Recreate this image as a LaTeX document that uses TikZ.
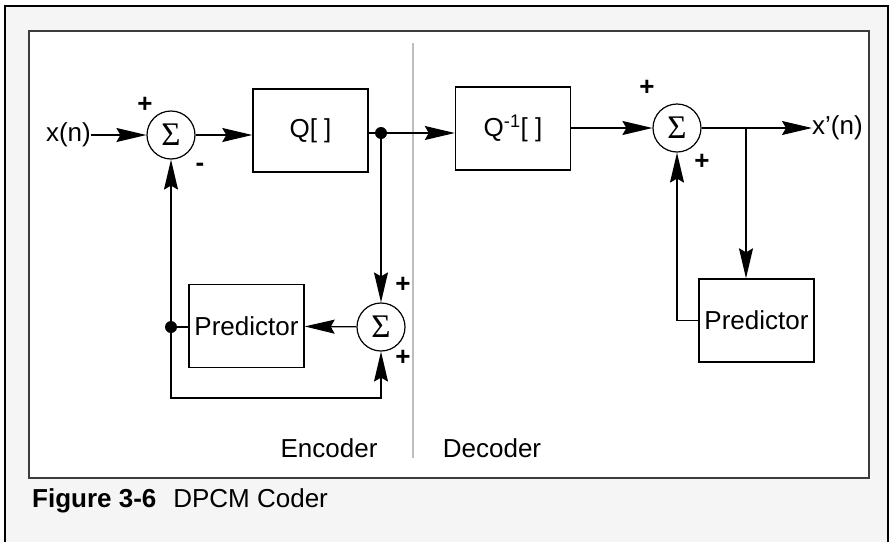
\documentclass[tikz,border=0pt]{standalone}
\usepackage{fontspec}
\setmainfont{Liberation Sans}
\newfontfamily\fuenteSigma{Liberation Serif}
\usetikzlibrary{arrows.meta}
\definecolor{grisfondo}{HTML}{F5F5F5}
\definecolor{grismarco}{HTML}{3C3C3C}
\definecolor{grisdivisor}{HTML}{BDBDBD}
\colorlet{colLinea}{black}
\colorlet{colMarco}{grismarco}
\colorlet{colDivisor}{grisdivisor}
\newcommand{\letraDiagrama}{\fontsize{26}{31}\selectfont}
\newcommand{\letraSigma}{\fontsize{33}{36}\selectfont}
\tikzset{
  cajaBloque/.style={
    draw=colLinea, line width=1.4pt,
    minimum width=115pt, minimum height=83pt, inner sep=0pt,
    align=center, font=\letraDiagrama
  },
  sumador/.style={circle, draw=colLinea, line width=1.2pt,
    minimum size=48pt, inner sep=0pt, font=\fuenteSigma\letraSigma},
  punto/.style={circle, fill=colLinea, minimum size=12pt, inner sep=0pt},
  flecha/.style={-{Stealth[length=30pt, width=14pt, inset=4pt]}, line width=1.3pt, colLinea},
  linea/.style={line width=1.3pt, colLinea},
  signo/.style={font=\bfseries\letraDiagrama, inner sep=0pt},
  etiqueta/.style={font=\letraDiagrama, inner sep=0pt},
}

\begin{document}
\begin{tikzpicture}[x=1pt, y=-1pt]
    \clip (0,0) rectangle (893,541);
    % marco exterior, area blanca y separador
    \draw[colLinea, line width=2.4pt, fill=grisfondo] (5,6) rectangle (888,560);
    \draw[colMarco, line width=2pt, fill=white] (29,31) rectangle (869,478);
    \draw[colDivisor, line width=1.5pt] (413,43) -- (413,458);
    % codificador
    \node[etiqueta, anchor=east] (xn) at (91,135) {x(n)};
    \node[sumador] (suma1) at (171,135) {Σ};
    \node[cajaBloque] (cuant) at (310.5,130.5) {Q[ ]};
    \node[punto] (derivacion) at (381,133) {};
    \node[sumador] (suma2) at (381,327) {Σ};
    \node[cajaBloque] (predCod) at (246.5,326) {Predictor};
    \node[punto] (retorno) at (171,327) {};
    \coordinate (esquinaCod) at (171,398);
    \node[signo] at (145,105) {+};
    \node[signo] at (200,167) {-};
    \node[signo] at (403,285) {+};
    \node[signo] at (403,358) {+};
    \draw[flecha] (xn) -- (suma1);
    \draw[flecha] (suma1) -- (cuant.west |- suma1);
    \draw[linea] (cuant.east |- derivacion) -- (derivacion);
    \draw[flecha] (derivacion) -- (suma2);
    \draw[flecha] (suma2) -- (predCod);
    \draw[linea] (predCod.west |- retorno) -- (retorno);
    \draw[flecha] (retorno) -- (suma1);
    \draw[flecha] (retorno) -- (esquinaCod) -| (suma2);
    % decodificador
    \node[cajaBloque] (cuantInv) at (513,128.5) {Q\textsuperscript{-1}[ ]};
    \node[sumador] (suma3) at (677,128) {Σ};
    \coordinate (rama) at (746,128);
    \node[etiqueta, anchor=west] (xsal) at (812,128) {x’(n)};
    \node[cajaBloque] (predDec) at (756.5,320.5) {Predictor};
    \node[signo] at (647,88) {+};
    \node[signo] at (702,162) {+};
    \draw[flecha] (derivacion) -- (cuantInv.west |- derivacion);
    \draw[flecha] (cuantInv.east |- suma3) -- (suma3);
    \draw[flecha] (suma3) -- (xsal);
    \draw[flecha] (rama) -- (rama |- predDec.north);
    \draw[flecha] (predDec.west) -| (suma3);
    % rotulos
    \node[etiqueta] (codificador) at (329,448) {Encoder};
    \node[etiqueta] (decodificador) at (492,448) {Decoder};
    \node[etiqueta, anchor=base west] (titulo) at (32,507)
      {\textbf{Figure 3-6}\hspace{0.65em}DPCM Coder};
\end{tikzpicture}
\end{document}
